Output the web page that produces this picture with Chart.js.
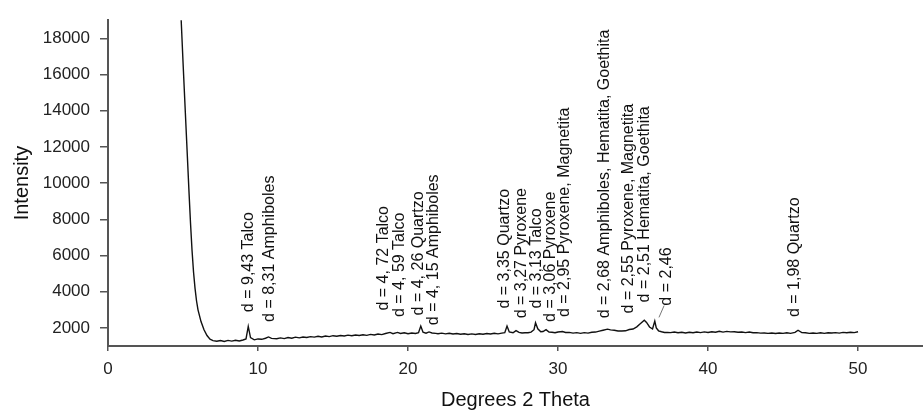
<!DOCTYPE html>
<html>
<head>
<meta charset="utf-8">
<script src="https://cdn.jsdelivr.net/npm/chart.js@4.4.1/dist/chart.umd.min.js"></script>
<style>
  html, body { margin: 0; padding: 0; background: #fff; overflow: hidden; }
  canvas { display: block; }
</style>
</head>
<body>
<canvas id="xrd" width="923" height="414"></canvas>
<script>
// diffractogram
const twoTheta = [
  4.8, 4.9, 5.0, 5.1, 5.2, 5.3, 5.4, 5.5, 5.6, 5.7, 5.8, 5.9, 6.0, 6.2, 6.4, 6.6, 6.8,
  7.0, 7.25, 7.5, 7.75, 8.0, 8.25, 8.5, 8.75, 9.0, 9.2, 9.35, 9.5, 9.75,
  10.0, 10.25, 10.5, 10.7, 10.9, 11.25, 11.5, 11.75, 12.0, 12.25, 12.5, 12.75,
  13.0, 13.25, 13.5, 13.75, 14.0, 14.25, 14.5, 14.75, 15.0, 15.25, 15.5, 15.75,
  16.0, 16.25, 16.5, 16.75, 17.0, 17.25, 17.5, 17.75, 18.0, 18.25, 18.5, 18.8,
  19.0, 19.3, 19.5, 19.75, 20.0, 20.25, 20.5, 20.7, 20.85, 21.0, 21.2, 21.4, 21.6, 21.85,
  22.0, 22.25, 22.5, 22.75, 23.0, 23.25, 23.5, 23.75, 24.0, 24.25, 24.5, 24.75,
  25.0, 25.25, 25.5, 25.75, 26.0, 26.25, 26.45, 26.6, 26.75, 27.0, 27.2, 27.4, 27.6, 27.8,
  28.0, 28.2, 28.4, 28.5, 28.65, 28.85, 29.0, 29.2, 29.4, 29.6, 29.8,
  30.0, 30.3, 30.5, 30.75, 31.0, 31.25, 31.5, 31.75, 32.0, 32.25, 32.5, 32.75,
  33.0, 33.3, 33.5, 33.75, 34.0, 34.25, 34.5, 34.75, 35.0, 35.25, 35.5, 35.75, 35.9,
  36.1, 36.3, 36.45, 36.55, 36.7, 36.9, 37.1, 37.3, 37.5, 37.75, 38.0, 38.25, 38.5, 38.75,
  39.0, 39.25, 39.5, 39.75, 40.0, 40.25, 40.5, 40.75, 41.0, 41.25, 41.5, 41.75,
  42.0, 42.25, 42.5, 42.75, 43.0, 43.25, 43.5, 43.75, 44.0, 44.25, 44.5, 44.75,
  45.0, 45.25, 45.5, 45.8, 46.0, 46.25, 46.5, 46.75, 47.0, 47.25, 47.5, 47.75,
  48.0, 48.25, 48.5, 48.75, 49.0, 49.25, 49.5, 49.75, 50.0
];
const intensity = [
  20500, 18600, 16700, 14900, 13100, 11300, 9500, 7800, 6300, 5100, 4200, 3500, 3000, 2350, 1900, 1580, 1380,
  1300, 1260, 1300, 1250, 1310, 1270, 1320, 1280, 1330, 1390, 2080, 1460, 1340,
  1390, 1370, 1430, 1500, 1420, 1400, 1450, 1410, 1470, 1430, 1490, 1450,
  1500, 1470, 1520, 1490, 1540, 1500, 1550, 1520, 1570, 1540, 1580, 1550,
  1600, 1570, 1610, 1580, 1620, 1590, 1640, 1610, 1660, 1630, 1690, 1750,
  1680, 1750, 1690, 1730, 1680, 1720, 1690, 1740, 2100, 1760, 1710, 1780, 1720, 1700,
  1680, 1710, 1670, 1700, 1660, 1690, 1650, 1680, 1640, 1670, 1640, 1680,
  1650, 1690, 1660, 1700, 1670, 1710, 1740, 2100, 1780, 1730, 1850, 1750, 1720, 1730,
  1730, 1770, 1900, 2280, 1950, 1790, 1800, 1900, 1770, 1760, 1730,
  1770, 1800, 1750, 1750, 1710, 1740, 1700, 1740, 1710, 1760, 1770, 1820,
  1870, 1930, 1890, 1870, 1830, 1830, 1840, 1910, 1940, 2060, 2240, 2420, 2300,
  2050, 1940, 2380, 2000, 1840, 1790, 1750, 1750, 1740, 1770, 1730, 1760, 1720, 1760, 1730,
  1770, 1740, 1780, 1750, 1790, 1760, 1810, 1770, 1810, 1780, 1790, 1760,
  1770, 1740, 1770, 1730, 1740, 1710, 1720, 1700, 1720, 1690, 1720, 1700,
  1730, 1700, 1750, 1870, 1740, 1730, 1700, 1720, 1700, 1730, 1700, 1730,
  1720, 1740, 1710, 1750, 1730, 1760, 1740, 1790, 1880
];

// peak labels: position (2 theta), intensity where the text starts, text
const labelTheta = [9.36, 10.8, 18.36, 19.47, 20.69, 21.73, 26.47, 27.58, 28.58, 29.51, 30.47, 33.13, 34.69, 35.76, 37.24, 45.8];
const labelBase = [2870, 2330, 2960, 2600, 2690, 2150, 3070, 2530, 3070, 2330, 2600, 2530, 2800, 3410, 3230, 2600];
const labelText = [
  "d = 9,43 Talco",
  "d = 8,31 Amphiboles",
  "d = 4, 72 Talco",
  "d = 4, 59 Talco",
  "d = 4, 26 Quartzo",
  "d = 4, 15 Amphiboles",
  "d = 3,35 Quartzo",
  "d = 3,27 Pyroxene",
  "d = 3,13 Talco",
  "d = 3,06 Pyroxene",
  "d = 2,95 Pyroxene, Magnetita",
  "d = 2,68 Amphiboles, Hematita, Goethita",
  "d = 2,55 Pyroxene, Magnetita",
  "d = 2,51 Hematita, Goethita",
  "d = 2,46",
  "d = 1,98 Quartzo"
];
// small leader line to the d = 2,46 label
const leaderTheta = [36.73, 37.07];
const leaderIntensity = [2580, 3230];

const xTicks = [0, 10, 20, 30, 40, 50];
const yTicks = [2000, 4000, 6000, 8000, 10000, 12000, 14000, 16000, 18000];

const FONT = '"Liberation Sans", Arial, sans-serif';
const AXIS = '#555';

const peakLabels = {
  id: 'peakLabels',
  afterDatasetsDraw(chart) {
    const { ctx, scales: { x, y } } = chart;
    ctx.save();
    ctx.font = '16px ' + FONT;
    ctx.fillStyle = '#111';
    ctx.textAlign = 'left';
    ctx.textBaseline = 'middle';
    labelText.forEach((t, i) => {
      ctx.save();
      ctx.translate(x.getPixelForValue(labelTheta[i]), y.getPixelForValue(labelBase[i]));
      ctx.rotate(-Math.PI / 2);
      ctx.fillText(t, 0, 0);
      ctx.restore();
    });
    ctx.restore();
  }
};

new Chart(document.getElementById('xrd'), {
  type: 'line',
  data: {
    datasets: [
      {
        data: twoTheta.map((t, i) => ({ x: t, y: intensity[i] })),
        borderColor: '#111',
        borderWidth: 1.4,
        pointRadius: 0,
        tension: 0
      },
      {
        data: leaderTheta.map((t, i) => ({ x: t, y: leaderIntensity[i] })),
        borderColor: '#777',
        borderWidth: 1,
        pointRadius: 0
      }
    ]
  },
  options: {
    animation: false,
    responsive: false,
    layout: { padding: { top: 13, right: 0, left: 0, bottom: 0 } },
    plugins: { legend: { display: false }, tooltip: { enabled: false } },
    scales: {
      x: {
        type: 'linear',
        min: 0,
        max: 54.33,
        afterBuildTicks: (s) => { s.ticks = xTicks.map((v) => ({ value: v })); },
        afterFit: (s) => { s.height = 68; },
        border: { display: true, color: AXIS, width: 2 },
        grid: { display: true, drawOnChartArea: false, drawTicks: true, tickLength: 5, color: AXIS, lineWidth: 1.5 },
        ticks: { color: '#222', font: { family: FONT, size: 17 }, padding: 8, maxRotation: 0, callback: (v) => String(v) },
        title: { display: true, text: 'Degrees 2 Theta', color: '#111', font: { family: FONT, size: 20 }, padding: { top: 0, bottom: 2 } }
      },
      y: {
        type: 'linear',
        min: 1000,
        max: 19000,
        afterBuildTicks: (s) => { s.ticks = yTicks.map((v) => ({ value: v })); },
        afterFit: (s) => { s.width = 108; },
        border: { display: true, color: AXIS, width: 2 },
        grid: { display: true, drawOnChartArea: false, drawTicks: true, tickLength: 8, color: AXIS, lineWidth: 1.5 },
        ticks: { color: '#222', font: { family: FONT, size: 17 }, padding: 10, callback: (v) => String(v) },
        title: { display: true, text: 'Intensity', color: '#111', font: { family: FONT, size: 20 }, padding: { top: 10, bottom: 0 } }
      }
    }
  },
  plugins: [peakLabels]
});
</script>
</body>
</html>
